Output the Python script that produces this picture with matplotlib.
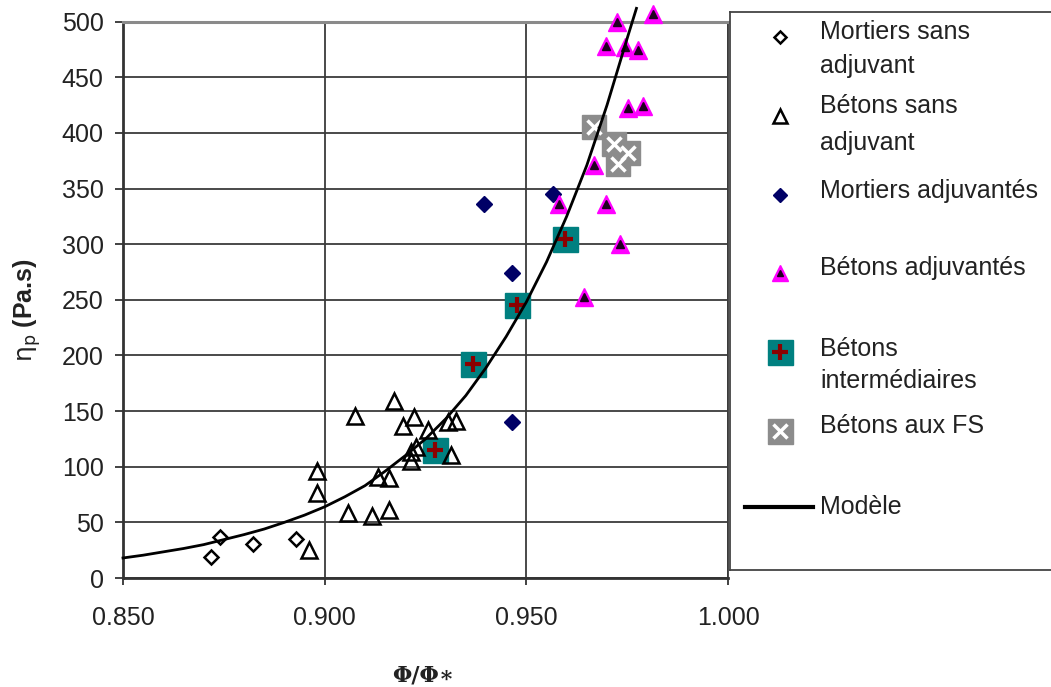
import matplotlib
matplotlib.use("Agg")
import matplotlib.pyplot as plt
from matplotlib.ticker import FormatStrFormatter

# ---------------- data ----------------
mort_sans_x = [0.8717, 0.8741, 0.8823, 0.8928]
mort_sans_y = [19, 37, 31, 35]

beton_sans_x = [0.8962, 0.8981, 0.8981, 0.9059, 0.9076, 0.9118, 0.9159, 0.9131,
                0.9159, 0.9172, 0.9195, 0.9222, 0.9213, 0.9215, 0.9227, 0.9256,
                0.9305, 0.9326, 0.9313]
beton_sans_y = [25, 96, 76, 58, 146, 56, 61, 91,
                90, 159, 137, 145, 113, 105, 118, 133,
                140, 141, 111]

mort_adj_x = [0.9394, 0.9465, 0.9465, 0.9567]
mort_adj_y = [336, 274, 140, 345]

beton_adj_x = [0.9724, 0.9813, 0.9698, 0.9745, 0.9778, 0.9753, 0.9790, 0.9667,
               0.9581, 0.9698, 0.9732, 0.9643]
beton_adj_y = [500, 507, 478, 477, 475, 422, 424, 371,
               336, 336, 300, 253]

beton_inter_x = [0.9273, 0.9369, 0.9476, 0.9597]
beton_inter_y = [115, 192, 245, 305]

beton_fs_x = [0.9668, 0.9717, 0.9753, 0.9728]
beton_fs_y = [405, 390, 382, 372]

model_x = [0.850, 0.855, 0.860, 0.865, 0.870, 0.875, 0.880, 0.885, 0.890, 0.895,
           0.900, 0.905, 0.910, 0.915, 0.920, 0.925, 0.930, 0.935, 0.940, 0.945,
           0.950, 0.955, 0.960, 0.965, 0.970, 0.975, 0.9773]
model_y = [18, 20.5, 23.5, 26.5, 30, 34.5, 39, 44, 50, 56.5,
           64, 73, 83, 96, 110, 125, 143, 164, 189, 217,
           248, 284, 325, 371, 425, 485, 512]

x_ticks = [0.850, 0.900, 0.950, 1.000]
y_ticks = [0, 50, 100, 150, 200, 250, 300, 350, 400, 450, 500]

legend_labels = ["Mortiers sans\nadjuvant", "Bétons sans\nadjuvant", "Mortiers adjuvantés",
                 "Bétons adjuvantés", "Bétons\nintermédiaires", "Bétons aux FS", "Modèle"]

# ---------------- style ----------------
plt.rcParams['font.family'] = ['Liberation Sans', 'DejaVu Sans']
TXT = '#222222'
GRID = '#3a3a3a'
FS = 18

W, H = 1051, 687
fig = plt.figure(figsize=(W / 100, H / 100), dpi=100)
L, R, T, B = 123, 728, 21.7, 578
ax = fig.add_axes([L / W, (H - B) / H, (R - L) / W, (B - T) / H])

ax.set_xlim(0.85, 1.0)
ax.set_ylim(0, 500)
ax.set_xticks(x_ticks)
ax.set_yticks(y_ticks)
ax.xaxis.set_major_formatter(FormatStrFormatter('%.3f'))
ax.grid(True, color=GRID, linewidth=1.3)
ax.set_axisbelow(True)

for s in ['left', 'bottom']:
    ax.spines[s].set_color('#333333')
    ax.spines[s].set_linewidth(2.0)
ax.spines['top'].set_color('#8a8a8a')
ax.spines['top'].set_linewidth(2.2)
ax.spines['right'].set_color(GRID)
ax.spines['right'].set_linewidth(1.3)

ax.tick_params(axis='y', direction='out', length=6, width=1.3, color='#333333',
               labelsize=FS, labelcolor=TXT, pad=8)
ax.tick_params(axis='x', direction='out', length=5, width=1.3, color='#333333',
               labelsize=FS, labelcolor=TXT, pad=15)

# ---------------- series ----------------
ax.plot(beton_inter_x, beton_inter_y, ls='none', marker='s', ms=18,
        mfc='#008080', mec='#008080', clip_on=False, zorder=3)
ax.plot(beton_inter_x, beton_inter_y, ls='none', marker='+', ms=12, mew=3,
        color='#8b0000', clip_on=False, zorder=3)

ax.plot(beton_fs_x, beton_fs_y, ls='none', marker='s', ms=17,
        mfc='#8c8c8c', mec='#8c8c8c', clip_on=False, zorder=3)
ax.plot(beton_fs_x, beton_fs_y, ls='none', marker='x', ms=10, mew=2.5,
        color='white', clip_on=False, zorder=3)

ax.plot(mort_adj_x, mort_adj_y, ls='none', marker='D', ms=8,
        mfc='#000066', mec='#000066', clip_on=False, zorder=4)

ax.plot(beton_adj_x, beton_adj_y, ls='none', marker='^', ms=13,
        mfc='#ff00ff', mec='#ff00ff', clip_on=False, zorder=4)
ax.plot(beton_adj_x, beton_adj_y, ls='none', marker='^', ms=6,
        mfc='#200020', mec='#200020', clip_on=False, zorder=4)

ax.plot(mort_sans_x, mort_sans_y, ls='none', marker='D', ms=7.5, mew=1.8,
        mfc='none', mec='black', clip_on=False, zorder=5)
ax.plot(beton_sans_x, beton_sans_y, ls='none', marker='^', ms=12, mew=1.8,
        mfc='none', mec='black', clip_on=False, zorder=5)

ax.plot(model_x, model_y, color='black', lw=2, clip_on=False, zorder=6)

# ---------------- axis labels ----------------
ax.set_ylabel(r'$\mathrm{\eta}_{\mathrm{p}}$ (Pa.s)', fontsize=FS, fontweight='bold',
              color=TXT, va='center')
ax.yaxis.set_label_coords((27 - L) / (R - L), (B - 310) / (B - T))
ax.set_xlabel('Φ/Φ∗', fontsize=16, fontweight='bold', color=TXT, va='center',
              family='DejaVu Serif')
ax.xaxis.set_label_coords((423 - L) / (R - L), (B - 675) / (B - T))

# ---------------- legend (boxed panel) ----------------
LX0, LX1, LY0, LY1 = 730, 1060, 12, 570
lax = fig.add_axes([LX0 / W, (H - LY1) / H, (LX1 - LX0) / W, (LY1 - LY0) / H])
lax.set_xlim(LX0, LX1)
lax.set_ylim(LY1, LY0)
lax.set_xticks([])
lax.set_yticks([])
lax.patch.set_alpha(0)
for s in ['left', 'top', 'bottom']:
    lax.spines[s].set_color('#444444')
    lax.spines[s].set_linewidth(1.3)
lax.spines['right'].set_visible(False)

mx = 780
lax.plot([mx], [37], ls='none', marker='D', ms=6, mew=1.8, mfc='none', mec='black')
lax.plot([mx], [116], ls='none', marker='^', ms=10, mew=1.8, mfc='none', mec='black')
lax.plot([mx], [195], ls='none', marker='D', ms=7.5, mfc='#000066', mec='#000066')
lax.plot([mx], [273], ls='none', marker='^', ms=12, mfc='#ff00ff', mec='#ff00ff')
lax.plot([mx], [273], ls='none', marker='^', ms=5, mfc='#200020', mec='#200020')
lax.plot([mx], [352], ls='none', marker='s', ms=18, mfc='#008080', mec='#008080')
lax.plot([mx], [352], ls='none', marker='+', ms=12, mew=3, color='#8b0000')
lax.plot([mx], [431], ls='none', marker='s', ms=18, mfc='#8c8c8c', mec='#8c8c8c')
lax.plot([mx], [431], ls='none', marker='x', ms=10, mew=2.5, color='white')
lax.plot([745, 813], [507, 507], color='black', lw=3)

tx = 820
baselines = [(39, 73), (113, 150), (198,), (275,), (356, 388), (433,), (514,)]
for lab, bl in zip(legend_labels, baselines):
    for line, yb in zip(lab.split('\n'), bl):
        lax.text(tx, yb, line, fontsize=FS, color=TXT, ha='left', va='baseline')

fig.savefig('out.png', dpi=100)
